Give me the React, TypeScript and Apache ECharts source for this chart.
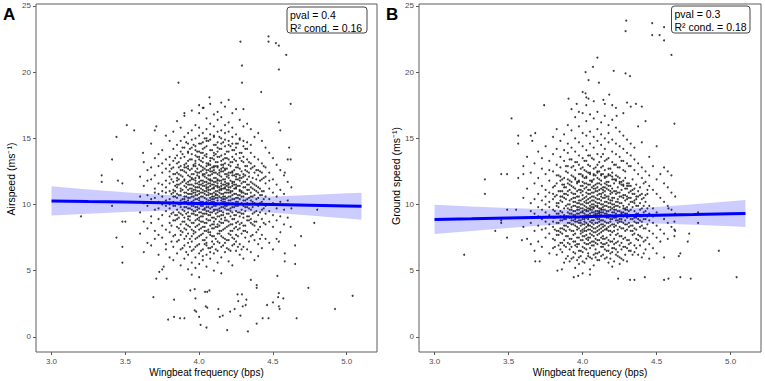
import React, { useEffect, useRef } from "react";
import * as echarts from "echarts";

// ---------- tick labels ----------
const xTicks = [3.0, 3.5, 4.0, 4.5, 5.0];
const yTicks = [0, 5, 10, 15, 20, 25];

// ---------- Panel A : Airspeed ----------
const colsA: [number, number[]][] = [
  [3.6, [12.1, 9.4, 10.6, 7.8]],
  [3.625, [13.2, 10.1, 8.7, 11.4, 6.4]],
  [3.65, [11.8, 9.9, 12.6, 8.2, 10.7, 7.1]],
  [3.675, [14.6, 10.4, 9.1, 11.9, 8.6, 12.8, 6.9]],
  [3.7, [13.5, 11.2, 9.6, 10.5, 8.0, 12.2, 7.4, 10.9]],
  [3.725, [12.9, 10.2, 11.6, 8.9, 9.7, 13.8, 7.7, 10.8, 6.2]],
  [3.75, [14.1, 11.5, 10.0, 9.2, 12.4, 8.4, 10.6, 13.1, 7.5, 11.0]],
  [3.775, [15.2, 12.7, 10.3, 9.5, 11.8, 8.1, 10.9, 13.4, 7.0, 9.9, 11.3, 6.6]],
  [3.8, [14.8, 13.0, 11.6, 10.4, 9.1, 12.1, 8.6, 10.0, 11.0, 7.9, 13.6, 9.7, 6.0, 12.5]],
  [3.825, [15.5, 12.3, 11.1, 10.6, 9.4, 13.3, 8.8, 10.2, 11.7, 7.6, 12.8, 9.9, 6.8, 14.2, 10.9, 5.8]],
  [3.85, [16.3, 13.7, 12.4, 11.3, 10.5, 9.6, 12.0, 8.3, 10.1, 11.8, 7.2, 13.1, 9.2, 14.5, 10.8, 6.3, 11.5, 8.9]],
  [3.875, [15.8, 14.0, 12.6, 11.0, 10.3, 9.8, 12.9, 8.5, 10.7, 11.6, 7.7, 13.5, 9.3, 14.8, 10.0, 6.6, 11.2, 8.0, 12.2, 5.4]],
  [3.9, [16.7, 14.3, 13.0, 11.8, 10.9, 10.2, 9.5, 12.5, 8.7, 11.4, 7.4, 13.6, 9.0, 15.1, 10.6, 6.9, 11.9, 8.2, 12.8, 5.9, 10.4, 9.8]],
  [3.925, [15.4, 13.9, 12.7, 11.5, 10.8, 10.0, 9.4, 12.2, 8.9, 11.1, 7.8, 13.3, 8.4, 14.6, 10.5, 7.1, 11.7, 9.7, 12.9, 6.2, 10.3, 5.1, 14.0, 9.1]],
  [3.95, [17.1, 14.9, 13.4, 12.3, 11.2, 10.6, 9.9, 12.0, 8.6, 11.5, 7.6, 13.8, 9.3, 15.6, 10.2, 6.5, 11.9, 8.1, 12.7, 5.6, 10.8, 9.6, 14.3, 7.2, 11.0, 4.7]],
  [3.975, [16.0, 14.4, 13.1, 12.0, 11.3, 10.7, 10.1, 12.5, 8.8, 11.6, 7.9, 13.7, 9.2, 15.0, 10.4, 6.8, 11.8, 8.3, 12.9, 6.0, 10.9, 9.5, 14.1, 7.4, 11.1, 5.2, 9.8, 13.3]],
  [4.0, [16.9, 15.2, 13.6, 12.4, 11.5, 10.8, 10.3, 12.1, 9.0, 11.7, 8.1, 14.0, 9.4, 15.8, 10.5, 7.0, 12.0, 8.5, 13.0, 6.3, 11.0, 9.7, 14.6, 7.6, 11.3, 5.5, 10.0, 13.4, 8.8, 4.5]],
  [4.025, [17.3, 14.7, 13.2, 12.2, 11.4, 10.9, 10.2, 12.6, 9.1, 11.8, 8.3, 13.9, 9.6, 15.4, 10.6, 7.3, 12.3, 8.7, 13.5, 6.6, 11.1, 9.9, 14.2, 7.8, 11.6, 5.8, 10.1, 12.8, 9.3, 6.1]],
  [4.05, [16.5, 15.0, 13.8, 12.6, 11.7, 11.0, 10.4, 12.0, 9.3, 11.3, 8.6, 14.4, 9.8, 15.7, 10.7, 7.5, 12.4, 8.9, 13.1, 6.9, 11.5, 10.0, 14.8, 8.0, 11.2, 6.2, 10.2, 13.6, 9.5, 5.3, 12.9, 7.1]],
  [4.075, [17.6, 15.3, 13.5, 12.5, 11.8, 11.1, 10.5, 12.2, 9.4, 11.4, 8.4, 14.1, 9.7, 16.1, 10.8, 7.7, 12.7, 8.8, 13.3, 6.7, 11.6, 10.1, 14.9, 7.9, 11.9, 5.9, 10.3, 13.0, 9.2, 6.4]],
  [4.1, [16.8, 15.1, 13.9, 12.8, 12.0, 11.2, 10.6, 12.4, 9.5, 11.5, 8.7, 14.5, 9.9, 15.9, 10.9, 7.6, 12.6, 9.0, 13.4, 7.0, 11.7, 10.2, 15.2, 8.2, 11.3, 6.3, 10.4, 13.7, 9.6, 5.0, 12.9, 8.5]],
  [4.125, [17.0, 15.5, 14.0, 12.9, 11.9, 11.3, 10.7, 12.3, 9.6, 11.6, 8.5, 14.3, 10.0, 16.4, 11.0, 7.8, 12.8, 9.1, 13.6, 7.2, 11.8, 10.3, 14.7, 8.3, 11.4, 6.5, 10.5, 13.2, 9.4, 5.6]],
  [4.15, [16.6, 15.0, 13.7, 12.7, 11.8, 11.1, 10.5, 12.1, 9.5, 11.4, 8.6, 14.2, 9.8, 15.6, 10.8, 7.6, 12.5, 8.9, 13.3, 6.8, 11.6, 10.1, 14.6, 8.0, 11.2, 6.0, 10.3, 13.0, 9.2, 4.8]],
  [4.175, [17.4, 15.4, 13.8, 12.6, 11.9, 11.2, 10.6, 12.3, 9.7, 11.5, 8.8, 14.4, 9.9, 16.0, 10.9, 7.4, 12.7, 9.0, 13.5, 7.1, 11.7, 10.2, 14.9, 8.2, 11.3, 6.4, 10.4, 13.1]],
  [4.2, [16.2, 14.8, 13.4, 12.4, 11.6, 10.9, 10.3, 12.0, 9.3, 11.3, 8.4, 14.0, 9.6, 15.5, 10.6, 7.3, 12.2, 8.7, 13.0, 6.6, 11.5, 10.0, 14.5, 7.8, 11.1, 5.7, 10.1]],
  [4.225, [16.9, 15.1, 13.6, 12.5, 11.7, 11.0, 10.4, 12.2, 9.4, 11.4, 8.5, 14.1, 9.8, 15.8, 10.7, 7.5, 12.4, 8.9, 13.2, 6.9, 11.6, 10.1, 14.6, 8.0, 5.4]],
  [4.25, [17.2, 14.6, 13.3, 12.3, 11.5, 10.8, 10.2, 11.9, 9.2, 11.2, 8.3, 13.8, 9.5, 15.3, 10.5, 7.2, 12.1, 8.6, 12.8, 6.5, 11.3, 9.9, 14.3, 7.7]],
  [4.275, [16.4, 14.9, 13.5, 12.2, 11.4, 10.7, 10.0, 11.8, 9.1, 11.1, 8.2, 13.9, 9.4, 15.0, 10.4, 7.0, 12.0, 8.5, 12.7, 6.2, 11.0]],
  [4.3, [15.9, 14.4, 13.2, 12.1, 11.3, 10.6, 9.9, 11.7, 9.0, 10.9, 8.0, 13.6, 9.3, 14.8, 10.3, 6.8, 12.3, 8.4, 5.9]],
  [4.325, [16.1, 14.2, 12.9, 11.9, 11.1, 10.4, 9.8, 11.5, 8.8, 10.8, 7.9, 13.4, 9.1, 14.7, 10.1, 6.6, 12.5]],
  [4.35, [15.7, 13.9, 12.7, 11.7, 10.9, 10.3, 9.6, 11.3, 8.6, 10.6, 7.6, 13.1, 8.9, 14.5, 6.4]],
  [4.375, [15.1, 13.6, 12.4, 11.5, 10.7, 10.1, 9.4, 11.1, 8.4, 7.3, 12.9, 8.7, 5.8]],
  [4.4, [15.4, 13.4, 12.2, 11.3, 10.5, 9.9, 9.2, 10.9, 8.1, 7.0, 12.6, 6.1]],
  [4.425, [14.8, 13.1, 11.9, 11.0, 10.2, 9.6, 8.9, 10.7, 7.7, 12.4, 6.7]],
  [4.45, [14.3, 12.8, 11.6, 10.6, 9.9, 9.3, 8.5, 7.4, 12.1]],
  [4.475, [13.9, 12.4, 11.2, 10.4, 9.5, 8.7, 7.1, 11.8]],
  [4.5, [13.5, 11.9, 10.9, 10.1, 9.2, 8.3, 6.6]],
  [4.525, [13.0, 11.5, 10.6, 9.7, 8.8, 7.4]],
  [4.55, [12.6, 11.1, 10.2, 9.1, 7.9]],
  [4.575, [12.2, 10.8, 9.6, 8.5]],
  [4.6, [11.7, 10.3, 9.0]],
  [4.625, [11.3, 9.7]],
];

const coreA: [number, number[]][] = [
  [3.8125, [10.8, 9.3, 11.9, 8.4, 12.7, 7.2, 10.1]],
  [3.8375, [11.4, 9.9, 12.3, 8.8, 10.6, 13.5, 7.7, 9.2, 11.0]],
  [3.8625, [10.7, 12.8, 9.4, 11.5, 8.2, 13.2, 10.0, 7.3, 11.9, 9.0, 12.3]],
  [3.8875, [11.1, 9.6, 12.6, 10.4, 8.7, 13.8, 11.7, 7.9, 10.1, 12.1, 9.2, 6.7, 14.3]],
  [3.9125, [10.9, 12.4, 9.3, 11.6, 8.5, 13.1, 10.2, 7.6, 11.3, 9.8, 12.8, 8.1, 14.7, 10.6, 6.4]],
  [3.9375, [11.2, 9.7, 12.1, 10.5, 8.8, 13.4, 11.8, 7.4, 10.0, 12.6, 9.1, 6.8, 14.2, 10.8, 8.3, 11.5]],
  [3.9625, [10.6, 12.3, 9.5, 11.4, 8.6, 13.0, 10.3, 7.8, 11.9, 9.9, 12.9, 8.0, 14.5, 10.9, 6.6, 11.1, 9.3]],
  [3.9875, [11.3, 9.6, 12.2, 10.7, 8.9, 13.6, 11.6, 7.5, 10.0, 12.7, 9.2, 6.9, 14.0, 10.4, 8.4, 11.0, 9.8, 12.4]],
  [4.0125, [10.9, 12.5, 9.4, 11.5, 8.7, 13.3, 10.2, 7.7, 11.8, 9.9, 12.9, 8.2, 14.6, 10.6, 6.5, 11.2, 9.1, 13.9, 10.0]],
  [4.0375, [11.4, 9.7, 12.1, 10.5, 8.6, 13.7, 11.7, 7.3, 10.1, 12.7, 9.3, 7.0, 14.3, 10.8, 8.3, 11.0, 9.6, 12.3, 8.0, 15.0]],
  [4.0625, [10.7, 12.6, 9.5, 11.3, 8.8, 13.1, 10.3, 7.9, 11.9, 10.0, 13.0, 8.1, 14.8, 10.9, 6.7, 11.1, 9.2, 12.2, 9.8, 11.6]],
  [4.0875, [11.2, 9.8, 12.3, 10.6, 8.5, 13.5, 11.5, 7.6, 10.2, 12.8, 9.4, 6.8, 14.1, 10.4, 8.2, 11.8, 9.0, 12.5, 10.8, 7.2]],
  [4.1125, [10.8, 12.4, 9.6, 11.4, 8.9, 13.2, 10.1, 7.4, 11.7, 9.9, 12.9, 8.3, 14.5, 10.5, 6.6, 11.0, 9.3, 13.8, 10.7, 12.0]],
  [4.1375, [11.3, 9.5, 12.2, 10.6, 8.7, 13.6, 11.8, 7.8, 10.0, 12.6, 9.1, 7.1, 14.2, 10.9, 8.4, 11.1, 9.7, 12.4, 8.0, 15.1]],
  [4.1625, [10.6, 12.5, 9.4, 11.5, 8.6, 13.0, 10.2, 7.5, 11.9, 9.8, 12.8, 8.1, 14.7, 10.8, 6.9, 11.2, 9.2, 13.4, 10.4]],
  [4.1875, [11.1, 9.6, 12.1, 10.5, 8.8, 13.5, 11.6, 7.3, 10.1, 12.7, 9.3, 6.7, 14.0, 10.9, 8.3, 11.4, 9.9, 12.3]],
  [4.2125, [10.9, 12.4, 9.5, 11.3, 8.5, 13.2, 10.3, 7.7, 11.8, 9.7, 12.9, 8.0, 14.4, 10.6, 6.5, 11.0, 9.1]],
  [4.2375, [11.2, 9.8, 12.2, 10.4, 8.9, 13.4, 11.7, 7.4, 10.0, 12.6, 9.2, 7.0, 14.1, 10.8, 8.2, 11.5]],
  [4.2625, [10.7, 12.3, 9.4, 11.4, 8.7, 13.0, 10.2, 7.6, 11.9, 9.9, 12.8, 8.1, 14.6, 10.5, 6.8]],
  [4.2875, [11.0, 9.6, 12.0, 10.6, 8.6, 13.3, 11.6, 7.8, 10.1, 12.5, 9.3, 6.6, 13.9, 10.9]],
  [4.3125, [10.8, 12.2, 9.5, 11.3, 8.4, 12.9, 10.3, 7.5, 11.7, 9.8, 12.6, 8.0, 14.2]],
  [4.3375, [11.1, 9.7, 12.1, 10.5, 8.8, 13.2, 11.5, 7.2, 10.0, 12.4, 9.1]],
  [4.3625, [10.6, 12.0, 9.3, 11.2, 8.5, 12.8, 10.2, 7.7, 11.6, 9.8]],
  [4.3875, [11.0, 9.5, 11.9, 10.4, 8.7, 12.6, 11.4, 7.9, 10.0]],
  [4.4125, [10.7, 11.8, 9.4, 11.2, 8.3, 12.5, 10.1, 7.4]],
  [4.4375, [11.0, 9.7, 12.0, 10.4, 8.6, 12.9]],
];

const outliersA: [number, number][] = [
  [4.28, 22.3], [4.47, 22.7], [4.47, 22.3], [4.52, 22.2], [4.54, 22.0], [4.29, 20.5],
  [4.59, 21.3], [4.54, 20.2], [4.29, 19.2], [3.86, 19.2], [4.42, 18.5], [4.07, 18.1],
  [4.2, 17.9], [4.15, 17.7], [4.62, 17.6], [4.0, 17.5], [4.03, 17.3], [4.3, 17.2],
  [3.51, 16.0], [3.44, 15.1], [3.56, 15.6], [3.41, 13.4], [3.34, 12.2], [3.34, 11.7],
  [3.45, 11.8], [3.48, 11.6], [3.62, 13.9], [3.71, 15.9], [3.7, 15.6], [3.9, 16.9],
  [4.54, 16.2], [4.55, 15.6], [4.61, 14.3], [4.6, 13.4], [4.62, 13.4], [4.58, 12.4],
  [3.2, 9.1], [3.41, 9.9], [3.44, 7.5], [3.48, 8.7], [3.5, 8.7], [3.48, 6.8], [3.48, 5.6],
  [3.69, 3.0], [3.71, 4.4], [3.73, 4.9], [3.75, 5.1], [3.76, 5.3], [3.78, 4.4], [3.83, 2.8],
  [3.79, 1.3], [3.83, 1.5], [3.87, 1.4], [3.9, 1.4], [3.94, 3.5], [3.97, 3.6], [3.975, 2.9],
  [3.97, 2.0], [3.98, 1.9], [4.0, 1.5], [4.01, 0.9], [4.05, 0.7], [4.04, 3.4], [4.055, 3.4],
  [4.07, 3.5], [4.045, 2.3], [4.055, 2.2], [4.13, 2.1], [4.14, 1.5], [4.16, 1.6], [4.19, 0.5],
  [4.21, 1.9], [4.26, 3.2], [4.265, 2.7], [4.28, 1.6], [4.24, 2.1], [4.29, 3.2], [4.295, 2.3],
  [4.32, 2.8], [4.315, 2.4], [4.33, 0.4], [4.39, 1.0], [4.35, 4.3], [4.39, 3.9], [4.39, 3.7],
  [4.43, 1.4], [4.47, 1.4], [4.46, 2.4], [4.5, 2.6], [4.54, 3.3], [4.535, 3.0], [4.54, 2.3],
  [4.545, 2.1], [4.57, 2.9], [4.53, 4.6], [4.66, 1.4], [4.74, 3.7], [4.92, 2.1], [5.04, 3.1],
  [4.78, 8.6], [4.69, 7.6], [4.65, 5.5], [4.65, 6.9], [4.62, 8.3], [4.8, 9.6], [4.58, 6.3],
  [4.58, 5.7], [4.54, 7.2],
];

const bandX = [3.0, 3.25, 3.5, 3.75, 4.0, 4.25, 4.5, 4.75, 5.0, 5.1];
const fitA = [10.27, 10.22, 10.18, 10.13, 10.08, 10.03, 9.99, 9.94, 9.89, 9.87];
const lowA = [9.17, 9.3, 9.43, 9.53, 9.57, 9.51, 9.37, 9.16, 8.94, 8.85];
const highA = [11.37, 11.14, 10.93, 10.73, 10.59, 10.55, 10.61, 10.72, 10.84, 10.89];

// ---------- Panel B : Ground speed ----------
const colsB: [number, number[]][] = [
  [3.6, [10.5, 8.3, 12.9]],
  [3.625, [11.2, 9.0, 7.4, 13.6]],
  [3.65, [10.1, 8.6, 12.4, 7.0, 9.5]],
  [3.675, [11.6, 9.3, 8.0, 13.1, 6.5, 10.4]],
  [3.7, [12.0, 9.8, 8.4, 10.8, 7.2, 14.0, 9.1]],
  [3.725, [11.4, 9.6, 8.1, 10.3, 12.7, 6.8, 8.9, 13.5]],
  [3.75, [12.3, 10.0, 8.7, 9.4, 11.1, 7.5, 14.4, 8.2, 10.6]],
  [3.775, [11.8, 10.2, 8.5, 9.2, 10.9, 7.8, 13.3, 6.3, 9.8, 12.6]],
  [3.8, [12.5, 10.4, 9.0, 8.3, 11.3, 7.4, 13.8, 9.6, 6.7, 10.8, 15.1, 8.7]],
  [3.825, [13.0, 10.7, 9.3, 8.6, 11.6, 7.7, 14.2, 9.9, 6.2, 10.1, 12.2, 8.0, 15.7]],
  [3.85, [12.8, 11.0, 9.5, 8.8, 10.3, 7.9, 13.6, 9.1, 6.6, 11.8, 8.2, 14.8, 10.6, 7.1, 12.1]],
  [3.875, [13.3, 11.3, 9.7, 8.9, 10.5, 8.1, 14.1, 9.2, 6.9, 12.0, 8.4, 15.3, 10.8, 7.3, 11.5, 5.6]],
  [3.9, [13.9, 11.6, 10.0, 9.1, 10.7, 8.3, 14.6, 9.4, 7.1, 12.4, 8.6, 16.0, 11.0, 7.6, 11.9, 6.1, 9.7, 12.9]],
  [3.925, [13.4, 11.4, 9.8, 9.0, 10.4, 8.0, 14.3, 9.3, 6.8, 12.2, 8.5, 15.6, 10.9, 7.4, 11.7, 5.9, 9.6, 12.8, 8.8, 17.2]],
  [3.95, [14.0, 11.9, 10.2, 9.2, 10.8, 8.4, 15.0, 9.5, 7.2, 12.6, 8.7, 16.6, 11.2, 7.8, 12.0, 6.3, 9.9, 13.2, 8.9, 6.9, 10.5, 5.2]],
  [3.975, [13.7, 11.7, 10.1, 9.3, 10.6, 8.2, 14.7, 9.6, 7.0, 12.3, 8.6, 15.9, 11.1, 7.5, 11.8, 6.0, 9.8, 13.0, 8.8, 6.5, 10.3, 5.5, 17.0, 9.0]],
  [4.0, [14.4, 12.1, 10.4, 9.4, 11.0, 8.5, 15.4, 9.7, 7.3, 12.8, 8.9, 16.9, 11.4, 7.9, 12.2, 6.4, 10.0, 13.5, 9.1, 6.8, 10.7, 5.7, 8.1, 11.7, 9.5, 7.6]],
  [4.025, [14.1, 12.0, 10.3, 9.5, 10.9, 8.6, 15.2, 9.8, 7.4, 12.5, 9.0, 16.3, 11.3, 8.0, 12.1, 6.6, 10.1, 13.3, 9.2, 7.0, 10.6, 5.9, 8.3, 11.6, 17.5, 9.6, 7.7]],
  [4.05, [14.6, 12.3, 10.5, 9.6, 11.1, 8.7, 15.5, 9.9, 7.5, 12.9, 9.1, 16.8, 11.5, 8.1, 12.4, 6.7, 10.2, 13.7, 9.3, 7.1, 10.8, 6.0, 8.4, 11.8, 9.7, 7.8, 5.1]],
  [4.075, [14.3, 12.2, 10.6, 9.7, 11.2, 8.8, 15.1, 10.0, 7.6, 12.7, 9.2, 16.5, 11.4, 8.2, 12.3, 6.9, 10.3, 13.4, 9.4, 7.2, 10.9, 6.2, 8.5, 11.9, 9.8, 7.9, 5.4, 17.8]],
  [4.1, [14.8, 12.4, 10.7, 9.8, 11.3, 8.9, 15.7, 10.1, 7.7, 13.0, 9.3, 17.0, 11.6, 8.3, 12.5, 7.0, 10.4, 13.8, 9.5, 7.3, 11.0, 6.3, 8.6, 12.0, 9.9, 8.0, 5.8]],
  [4.125, [14.5, 12.3, 10.6, 9.7, 11.2, 8.8, 15.3, 10.0, 7.5, 12.8, 9.2, 16.2, 11.5, 8.2, 12.2, 6.8, 10.3, 13.6, 9.4, 7.1, 10.8, 6.1, 8.5, 11.8, 9.6, 7.9]],
  [4.15, [14.2, 12.1, 10.5, 9.6, 11.0, 8.7, 15.0, 9.9, 7.4, 12.6, 9.1, 16.7, 11.3, 8.1, 12.0, 6.6, 10.2, 13.3, 9.3, 7.0, 10.7, 5.9, 8.4, 11.6, 17.6]],
  [4.175, [14.7, 12.2, 10.4, 9.5, 11.1, 8.6, 15.4, 9.8, 7.3, 12.7, 9.0, 16.0, 11.4, 8.0, 12.3, 6.5, 10.1, 13.5, 9.2, 6.9, 10.6, 5.6, 8.3, 11.7]],
  [4.2, [14.0, 11.9, 10.3, 9.4, 10.9, 8.5, 14.9, 9.7, 7.2, 12.4, 8.9, 16.4, 11.2, 7.9, 12.1, 6.4, 10.0, 13.2, 9.1, 6.7, 10.5, 5.3]],
  [4.225, [13.8, 11.8, 10.2, 9.3, 10.8, 8.4, 14.6, 9.6, 7.1, 12.2, 8.8, 15.8, 11.0, 7.7, 11.9, 6.2, 9.9, 13.0, 9.0, 6.6, 17.3]],
  [4.25, [13.6, 11.6, 10.1, 9.2, 10.6, 8.3, 14.4, 9.5, 6.9, 12.0, 8.7, 15.5, 10.9, 7.6, 11.7, 6.0, 9.8, 12.8, 8.9, 5.5]],
  [4.275, [13.3, 11.4, 9.9, 9.1, 10.5, 8.2, 14.2, 9.4, 6.8, 11.8, 8.6, 15.2, 10.7, 7.4, 11.5, 5.8, 9.7, 12.6, 16.9]],
  [4.3, [13.1, 11.2, 9.8, 9.0, 10.4, 8.1, 13.9, 9.3, 6.7, 11.6, 8.5, 14.9, 10.6, 7.3, 11.4, 5.7, 9.6]],
  [4.325, [12.9, 11.0, 9.6, 8.9, 10.2, 8.0, 13.7, 9.2, 6.5, 11.4, 8.4, 14.6, 10.5, 7.1, 17.4]],
  [4.35, [12.6, 10.8, 9.5, 8.7, 10.1, 7.8, 13.4, 9.0, 6.4, 11.2, 8.2, 14.3, 10.3, 6.9]],
  [4.375, [12.3, 10.6, 9.3, 8.6, 9.9, 7.7, 13.1, 8.9, 6.2, 11.0, 15.9, 7.3]],
  [4.4, [12.0, 10.4, 9.1, 8.4, 9.7, 7.5, 12.8, 8.7, 6.0, 10.8, 14.7]],
  [4.425, [11.7, 10.2, 8.9, 8.2, 9.5, 7.3, 12.5, 6.6, 10.7, 16.3]],
  [4.45, [11.4, 9.9, 8.8, 8.0, 9.3, 7.0, 12.2, 5.9, 13.6]],
  [4.475, [11.1, 9.7, 8.6, 7.8, 9.1, 6.7, 12.9]],
  [4.5, [10.8, 9.4, 8.4, 7.5, 11.9, 6.3, 14.4]],
  [4.525, [10.5, 9.2, 8.1, 7.2, 12.3]],
  [4.55, [10.2, 8.9, 7.8, 11.6, 6.0, 12.8]],
  [4.575, [9.9, 8.6, 11.3, 7.4, 12.5]],
  [4.6, [9.6, 8.3, 10.9, 12.2]],
  [4.625, [9.3, 10.6, 8.0]],
];

const coreB: [number, number[]][] = [
  [3.8125, [9.5, 8.1, 10.6, 7.3, 11.4, 6.8, 9.0]],
  [3.8375, [10.1, 8.6, 11.0, 7.7, 9.3, 12.2, 6.9, 8.0, 9.8]],
  [3.8625, [9.4, 11.5, 8.2, 10.2, 7.1, 11.9, 8.8, 6.4, 10.6, 7.8, 11.0]],
  [3.8875, [9.9, 8.4, 11.3, 9.1, 7.6, 12.5, 10.4, 6.8, 8.9, 10.8, 8.0, 5.9, 12.9]],
  [3.9125, [9.6, 11.1, 8.1, 10.3, 7.4, 11.8, 9.0, 6.6, 10.0, 8.6, 11.5, 7.0, 13.4, 9.3, 5.7]],
  [3.9375, [9.9, 8.5, 10.8, 9.2, 7.7, 12.1, 10.5, 6.4, 8.8, 11.3, 8.0, 6.0, 12.9, 9.5, 7.2, 10.2]],
  [3.9625, [9.3, 11.0, 8.3, 10.1, 7.5, 11.7, 9.0, 6.8, 10.6, 8.7, 11.6, 7.0, 13.2, 9.6, 5.8, 9.8, 8.1]],
  [3.9875, [10.0, 8.4, 10.9, 9.4, 7.8, 12.3, 10.3, 6.5, 8.8, 11.4, 8.0, 6.1, 12.7, 9.1, 7.3, 9.7, 8.6, 11.1]],
  [4.0125, [9.6, 11.2, 8.2, 10.2, 7.6, 12.0, 8.9, 6.7, 10.5, 8.7, 11.6, 7.1, 13.3, 9.3, 5.6, 9.9, 8.0, 12.6, 8.5]],
  [4.0375, [10.1, 8.5, 10.8, 9.2, 7.5, 12.4, 10.4, 6.3, 8.9, 11.5, 8.1, 6.1, 13.0, 9.5, 7.3, 9.7, 8.4, 11.1, 7.0, 13.7]],
  [4.0625, [9.4, 11.3, 8.3, 10.0, 7.7, 11.8, 9.1, 6.9, 10.6, 8.8, 11.7, 7.2, 13.5, 9.6, 5.9, 9.8, 8.0, 10.9, 8.6, 10.3]],
  [4.0875, [9.9, 8.6, 11.0, 9.3, 7.4, 12.2, 10.2, 6.6, 9.0, 11.5, 8.2, 6.0, 12.8, 9.2, 7.1, 10.5, 7.9, 11.2, 9.5, 6.3]],
  [4.1125, [9.5, 11.1, 8.4, 10.1, 7.8, 11.9, 8.9, 6.4, 10.4, 8.7, 11.6, 7.3, 13.2, 9.3, 5.8, 9.7, 8.1, 12.5, 9.4, 10.8]],
  [4.1375, [10.0, 8.3, 10.9, 9.4, 7.6, 12.3, 10.5, 6.8, 8.8, 11.3, 8.0, 6.2, 12.9, 9.6, 7.4, 9.8, 8.5, 11.1, 7.0, 13.8]],
  [4.1625, [9.3, 11.2, 8.2, 10.2, 7.5, 11.7, 9.0, 6.5, 10.6, 8.6, 11.5, 7.1, 13.4, 9.5, 6.0, 9.9, 8.1, 12.1, 9.1]],
  [4.1875, [9.8, 8.4, 10.8, 9.2, 7.7, 12.2, 10.3, 6.3, 8.9, 11.4, 8.0, 5.9, 12.7, 9.6, 7.2, 10.1, 8.7, 11.0]],
  [4.2125, [9.6, 11.0, 8.3, 10.0, 7.4, 11.9, 9.0, 6.7, 10.5, 8.5, 11.6, 7.0, 13.0, 9.4, 5.7, 9.8, 8.0]],
  [4.2375, [9.9, 8.6, 10.9, 9.1, 7.8, 12.1, 10.4, 6.4, 8.8, 11.3, 8.1, 6.1, 12.8, 9.5, 7.2, 10.2]],
  [4.2625, [9.4, 11.1, 8.2, 10.1, 7.6, 11.7, 8.9, 6.6, 10.6, 8.7, 11.5, 7.1, 13.3, 9.3, 5.9]],
  [4.2875, [9.7, 8.5, 10.7, 9.3, 7.5, 12.0, 10.3, 6.8, 8.8, 11.2, 8.0, 6.2, 12.5, 9.6]],
  [4.3125, [9.5, 10.9, 8.3, 10.0, 7.3, 11.6, 9.1, 6.5, 10.5, 8.6, 11.4, 7.0, 12.9]],
  [4.3375, [9.8, 8.4, 10.8, 9.2, 7.7, 11.9, 10.2, 6.2, 8.9, 11.1, 8.0]],
  [4.3625, [9.3, 10.6, 8.1, 9.9, 7.4, 11.5, 9.0, 6.7, 10.4, 8.6]],
  [4.3875, [9.6, 8.3, 10.7, 9.1, 7.6, 11.3, 10.1, 6.9, 8.8]],
  [4.4125, [9.4, 10.5, 8.2, 9.9, 7.2, 11.6, 8.9, 6.3]],
  [4.4375, [9.7, 8.5, 10.8, 9.1, 7.5, 11.1]],
];

const outliersB: [number, number][] = [
  [4.295, 23.9], [4.29, 23.1], [4.47, 23.7], [4.47, 22.8], [4.52, 22.8], [4.55, 23.4],
  [4.55, 22.4], [4.6, 21.3], [4.1, 21.1], [4.07, 20.4], [4.02, 20.0], [4.21, 20.1],
  [4.29, 19.9], [4.32, 19.7], [4.11, 19.2], [4.04, 19.4], [4.0, 18.5], [4.02, 18.4],
  [4.025, 18.1], [4.04, 18.0], [3.905, 18.0], [3.74, 17.5], [4.62, 16.1], [3.52, 16.5],
  [3.565, 15.2], [3.565, 14.6], [3.45, 12.3], [3.49, 12.3], [3.34, 11.9], [3.565, 12.0],
  [3.6, 12.3], [3.65, 15.2], [3.68, 15.4], [3.66, 14.8], [4.18, 18.3], [4.3, 17.7],
  [4.36, 17.6], [4.4, 17.4], [4.2, 17.5], [4.14, 17.9], [4.23, 16.7], [3.96, 17.6],
  [3.2, 6.2], [3.34, 10.8], [3.41, 8.0], [3.49, 7.5], [3.49, 9.6], [3.45, 8.8], [3.45, 8.6],
  [3.55, 9.6], [3.59, 7.3], [3.68, 5.7], [3.71, 5.7], [3.83, 5.0], [3.86, 5.1], [3.94, 4.5],
  [3.97, 4.6], [4.0, 4.8], [4.05, 4.7], [4.24, 4.4], [4.32, 4.3], [4.35, 4.3], [4.42, 4.5],
  [4.55, 4.3], [4.58, 4.4], [4.66, 4.5], [4.73, 4.4], [4.92, 6.5], [5.04, 4.5], [4.78, 9.4],
  [4.78, 8.6], [4.72, 7.8], [4.71, 7.2], [4.66, 6.3], [4.65, 6.1], [4.62, 8.1], [4.62, 7.6],
  [4.58, 9.7], [4.62, 8.7],
];

const fitB = [8.87, 8.92, 8.98, 9.03, 9.08, 9.14, 9.19, 9.24, 9.3, 9.32];
const lowB = [7.77, 8.0, 8.23, 8.43, 8.57, 8.62, 8.57, 8.46, 8.35, 8.3];
const highB = [9.97, 9.84, 9.73, 9.63, 9.59, 9.66, 9.81, 10.02, 10.25, 10.34];

const FONT = "'Liberation Sans', Arial, Helvetica, sans-serif";
const AXIS_GRAY = "#5c5c5c";

function flatten(groups: [number, number[]][][], extra: [number, number][]) {
  const out: [number, number][] = [];
  groups.forEach((cols) => cols.forEach(([x, ys]) => ys.forEach((y) => out.push([x, y]))));
  return out.concat(extra);
}

function panelSeries(i: number, pts: [number, number][], fit: number[], lo: number[], hi: number[]) {
  const bandData = bandX.map((x, k) => [x, lo[k], hi[k]]);
  return [
    {
      type: "scatter",
      xAxisIndex: i,
      yAxisIndex: i,
      data: pts,
      symbolSize: 2,
      itemStyle: { color: "#0d0d0d" },
      z: 2,
      silent: true,
      large: false,
    },
    {
      type: "custom",
      xAxisIndex: i,
      yAxisIndex: i,
      data: bandData,
      encode: { x: 0, y: [1, 2] },
      z: 3,
      silent: true,
      renderItem: (params: any, api: any) => {
        if (params.dataIndex !== 0) return null;
        const top = bandX.map((x, k) => api.coord([x, hi[k]]));
        const bot = bandX.map((x, k) => api.coord([x, lo[k]])).reverse();
        return {
          type: "polygon",
          shape: { points: top.concat(bot) },
          style: { fill: "rgba(0,0,255,0.2)", stroke: "none" },
        };
      },
    },
    {
      type: "line",
      xAxisIndex: i,
      yAxisIndex: i,
      data: bandX.map((x, k) => [x, fit[k]]),
      showSymbol: false,
      lineStyle: { color: "#0000ff", width: 3 },
      z: 4,
      silent: true,
    },
  ];
}

function xAxisCfg(i: number) {
  return {
    type: "value",
    gridIndex: i,
    min: 2.895,
    max: 5.205,
    splitLine: { show: false },
    axisLine: { show: false, onZero: false },
    axisTick: { show: true, length: 3, lineStyle: { color: AXIS_GRAY }, customValues: xTicks },
    axisLabel: {
      color: "#4d4d4d",
      fontSize: 8,
      fontFamily: FONT,
      margin: 5,
      customValues: xTicks,
      formatter: (v: number) => v.toFixed(1),
    },
  };
}

function yAxisCfg(i: number) {
  return {
    type: "value",
    gridIndex: i,
    min: -1.15,
    max: 25.15,
    splitLine: { show: false },
    axisLine: { show: false, onZero: false },
    axisTick: { show: true, length: 3, lineStyle: { color: AXIS_GRAY }, customValues: yTicks },
    axisLabel: {
      color: "#4d4d4d",
      fontSize: 8,
      fontFamily: FONT,
      margin: 5,
      customValues: yTicks,
      formatter: (v: number) => String(v),
    },
  };
}

function legendBox(x: number, y: number, w: number, h: number, l1: string, l2: string) {
  return [
    {
      type: "rect",
      shape: { x, y, width: w, height: h, r: 3 },
      style: { fill: "#ffffff", stroke: "#444444", lineWidth: 1 },
      z: 10,
    },
    {
      type: "text",
      x: x + 3,
      y: y + 7.5,
      style: { text: l1, font: `10.5px ${FONT}`, fill: "#000", verticalAlign: "middle" },
      z: 11,
    },
    {
      type: "text",
      x: x + 3,
      y: y + 20.5,
      style: { text: l2, font: `10.5px ${FONT}`, fill: "#000", verticalAlign: "middle" },
      z: 11,
    },
  ];
}

export default function App() {
  const ref = useRef<HTMLDivElement>(null);
  useEffect(() => {
    if (!ref.current) return;
    const chart = echarts.init(ref.current, null, { renderer: "svg" });
    const ptsA = flatten([colsA, coreA], outliersA);
    const ptsB = flatten([colsB, coreB], outliersB);
    const grids = [
      { left: 36, top: 4, width: 341, height: 348 },
      { left: 419, top: 4, width: 342, height: 348 },
    ].map((g) => ({ ...g, show: true, borderColor: AXIS_GRAY, borderWidth: 1, backgroundColor: "transparent", containLabel: false }));
    chart.setOption({
      animation: false,
      backgroundColor: "#ffffff",
      grid: grids,
      xAxis: [xAxisCfg(0), xAxisCfg(1)],
      yAxis: [yAxisCfg(0), yAxisCfg(1)],
      series: [
        ...panelSeries(0, ptsA, fitA, lowA, highA),
        ...panelSeries(1, ptsB, fitB, lowB, highB),
      ],
      graphic: [
        { type: "text", x: 3, y: 14, style: { text: "A", font: `bold 17px ${FONT}`, fill: "#000", verticalAlign: "middle" } },
        { type: "text", x: 386, y: 14, style: { text: "B", font: `bold 17px ${FONT}`, fill: "#000", verticalAlign: "middle" } },
        {
          type: "text", x: 206.5, y: 372,
          style: { text: "Wingbeat frequency (bps)", font: `10px ${FONT}`, fill: "#000", align: "center", verticalAlign: "middle" },
        },
        {
          type: "text", x: 590, y: 372,
          style: { text: "Wingbeat frequency (bps)", font: `10px ${FONT}`, fill: "#000", align: "center", verticalAlign: "middle" },
        },
        {
          type: "text", x: 11, y: 179, rotation: Math.PI / 2,
          style: { text: "Airspeed (ms\u207B\u00B9)", font: `10.5px ${FONT}`, fill: "#000", align: "center", verticalAlign: "middle" },
        },
        {
          type: "text", x: 396, y: 176, rotation: Math.PI / 2,
          style: { text: "Ground speed (ms\u207B\u00B9)", font: `10.5px ${FONT}`, fill: "#000", align: "center", verticalAlign: "middle" },
        },
        ...legendBox(287, 7, 80, 26, "pval = 0.4", "R\u00B2 cond. = 0.16"),
        ...legendBox(671.5, 6, 78.5, 27, "pval = 0.3", "R\u00B2 cond. = 0.18"),
      ],
    });
    return () => chart.dispose();
  }, []);
  return (
    <div
      ref={ref}
      style={{ position: "fixed", left: 0, top: 0, width: 765, height: 381, background: "#fff" }}
    />
  );
}
